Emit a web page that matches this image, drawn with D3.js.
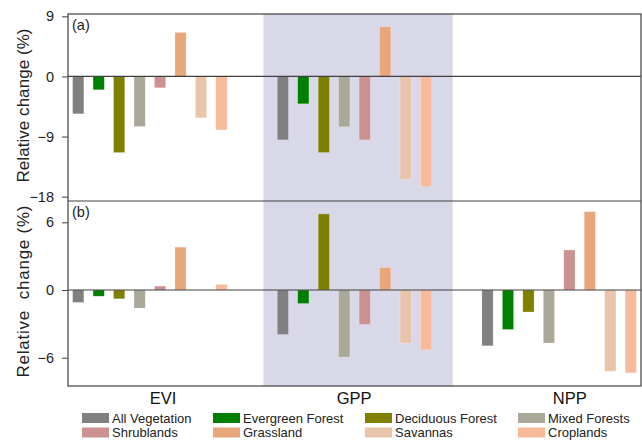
<!DOCTYPE html>
<html>
<head>
<meta charset="utf-8">
<title>Relative change</title>
<script src="https://d3js.org/d3.v7.min.js"></script>
<style>
  body { margin: 0; background: #fff; }
  svg { font-family: "Liberation Sans", Arial, sans-serif; }
</style>
</head>
<body>
<script>
// vegetation types (one bar each per variable)
var types = ["All Vegetation", "Evergreen Forest", "Deciduous Forest", "Mixed Forests",
             "Shrublands", "Grassland", "Savannas", "Croplands"];
var typeColors = ["#808080", "#008000", "#808000", "#aaa898",
                  "#cc9191", "#e8a67b", "#e8c5aa", "#f7bb9c"];
var variables = ["EVI", "GPP", "NPP"];

// panel (a) values, % ; null = no bar
var aEVI = [-5.6, -2.0, -11.4, -7.5, -1.7, 6.6, -6.2, -8.0];
var aGPP = [-9.5, -4.1, -11.4, -7.55, -9.5, 7.45, -15.4, -16.5];
var aNPP = [null, null, null, null, null, null, null, null];

// panel (b) values, %
var bEVI = [-1.1, -0.55, -0.78, -1.6, 0.35, 3.8, 0, 0.5];
var bGPP = [-3.95, -1.2, 6.75, -5.95, -3.05, 2.0, -4.7, -5.3];
var bNPP = [-4.95, -3.5, -1.95, -4.7, 3.55, 6.95, -7.2, -7.35];

var aTicks = [9, 0, -9, -18];
var bTicks = [6, 0, -6];

var width = 642, height = 444;
var left = 68, right = 641;

var svg = d3.select("body").append("svg")
    .attr("width", width)
    .attr("height", height);

// x in "slot" units: bar i of variable g sits at slot g*10 + i
var x = d3.scaleLinear().domain([-0.5, 27.5]).range([left, right]);
var barW = 0.55;

var panels = [
  { label: "(a)", top: 14, bottom: 201, domain: [9.35, -18.65], ticks: aTicks,
    series: [aEVI, aGPP, aNPP], title: "Relative change (%)", titleLen: 154 },
  { label: "(b)", top: 201, bottom: 386, domain: [7.89, -8.51], ticks: bTicks,
    series: [bEVI, bGPP, bNPP], title: "Relative  change (%)", titleLen: 172 }
];

// shaded GPP band across both panels
svg.append("rect")
    .attr("x", x(9.05))
    .attr("y", panels[0].top)
    .attr("width", x(18.3) - x(9.05))
    .attr("height", panels[1].bottom - panels[0].top)
    .attr("fill", "#d9d8e8");

panels.forEach(function (p) {
  var y = d3.scaleLinear().domain(p.domain).range([p.top, p.bottom]);

  var rows = [];
  p.series.forEach(function (vals, g) {
    vals.forEach(function (v, i) {
      if (v !== null) rows.push({ g: g, i: i, v: v });
    });
  });

  svg.append("g").selectAll("rect").data(rows)
    .enter().append("rect")
      .attr("x", function (d) { return x(d.g * 10 + d.i - barW / 2); })
      .attr("width", x(barW) - x(0))
      .attr("y", function (d) { return y(Math.max(0, d.v)); })
      .attr("height", function (d) { return Math.abs(y(d.v) - y(0)); })
      .attr("fill", function (d) { return typeColors[d.i]; })
      .attr("stroke", "#ffffff")
      .attr("stroke-opacity", 0.4)
      .attr("stroke-width", 0.6);

  // zero line
  svg.append("line")
      .attr("x1", left).attr("x2", right)
      .attr("y1", y(0)).attr("y2", y(0))
      .attr("stroke", "#404040").attr("stroke-width", 1.2);

  var axis = d3.axisLeft(y).tickValues(p.ticks).tickSize(6).tickPadding(8)
      .tickFormat(d3.format("d"));
  var ag = svg.append("g")
      .attr("transform", "translate(" + left + ",0)")
      .call(axis);
  ag.select(".domain").remove();
  ag.selectAll("line").attr("stroke", "#404040");
  ag.selectAll("text").attr("font-size", 14.5).attr("fill", "#222")
      .attr("font-family", "Liberation Sans, Arial, sans-serif");

  svg.append("text")
      .attr("x", left + 4)
      .attr("y", p.top + 16)
      .attr("font-size", 14.5)
      .attr("fill", "#222")
      .text(p.label);

  var cy = (p.top + p.bottom) / 2 - 2;
  svg.append("text")
      .attr("transform", "translate(28.5," + cy + ") rotate(-90)")
      .attr("text-anchor", "middle")
      .attr("font-size", 17)
      .attr("fill", "#222")
      .attr("xml:space", "preserve")
      .style("white-space", "pre")
      .attr("textLength", p.titleLen)
      .attr("lengthAdjust", "spacing")
      .text(p.title);
});

// frame
svg.append("rect")
    .attr("x", left).attr("y", panels[0].top)
    .attr("width", right - left)
    .attr("height", panels[1].bottom - panels[0].top)
    .attr("fill", "none")
    .attr("stroke", "#404040").attr("stroke-width", 1.2);
svg.append("line")
    .attr("x1", left).attr("x2", right)
    .attr("y1", panels[0].bottom).attr("y2", panels[0].bottom)
    .attr("stroke", "#404040").attr("stroke-width", 1.2);

// variable names under the chart
var labelSlots = [4.14, 13.48, 24.02];
svg.append("g").selectAll("text").data(variables)
  .enter().append("text")
    .attr("x", function (d, i) { return x(labelSlots[i]); })
    .attr("y", 404)
    .attr("text-anchor", "middle")
    .attr("font-size", 16.5)
    .attr("fill", "#111")
    .text(function (d) { return d; });

// legend, 4 columns x 2 rows
var legX = [82, 213, 365, 518];
var leg = svg.append("g").selectAll("g").data(types)
  .enter().append("g")
    .attr("transform", function (d, i) {
      return "translate(" + legX[i % 4] + "," + (i < 4 ? 413 : 427.5) + ")";
    });
leg.append("rect")
    .attr("width", 27).attr("height", 10)
    .attr("fill", function (d, i) { return typeColors[i]; });
leg.append("text")
    .attr("x", 30).attr("y", 9.5)
    .attr("font-size", 13)
    .attr("fill", "#222")
    .text(function (d) { return d; });
</script>
</body>
</html>
